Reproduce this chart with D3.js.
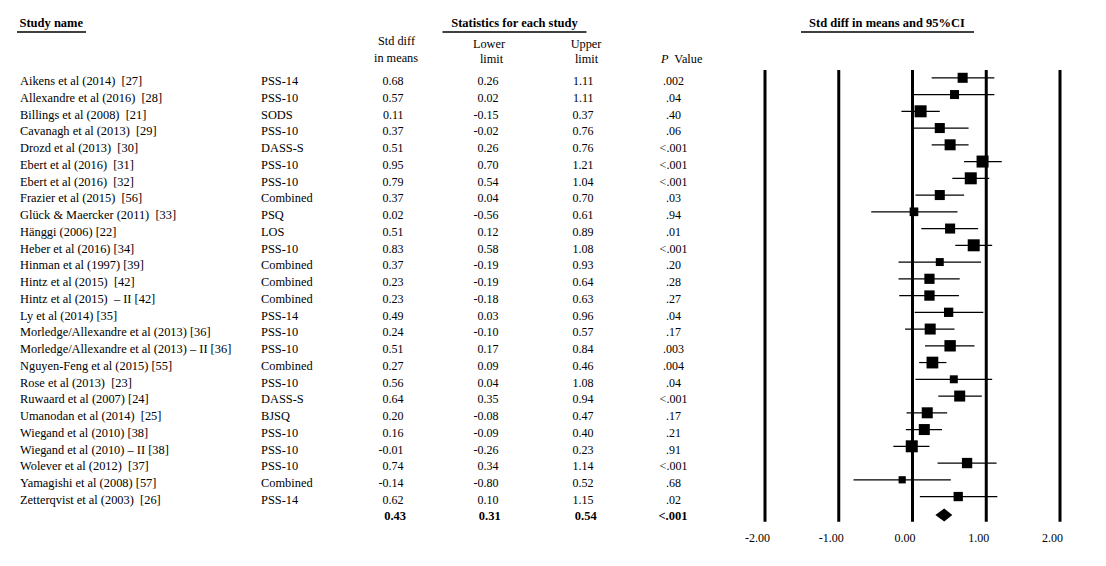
<!DOCTYPE html>
<html>
<head>
<meta charset="utf-8">
<script src="https://cdn.jsdelivr.net/npm/d3@7"></script>
<style>
  html, body { margin: 0; padding: 0; background: #fff; }
  svg { display: block; }
  text { font-family: "Liberation Serif", "Times New Roman", serif; fill: #000; white-space: pre; }
</style>
</head>
<body>
<svg id="chart" width="1106" height="566"></svg>
<script>
// ---------- Data ----------
const studies = [
  "Aikens et al (2014)  [27]",
  "Allexandre et al (2016)  [28]",
  "Billings et al (2008)  [21]",
  "Cavanagh et al (2013)  [29]",
  "Drozd et al (2013)  [30]",
  "Ebert et al (2016)  [31]",
  "Ebert et al (2016)  [32]",
  "Frazier et al (2015)  [56]",
  "Glück & Maercker (2011)  [33]",
  "Hänggi (2006) [22]",
  "Heber et al (2016) [34]",
  "Hinman et al (1997) [39]",
  "Hintz et al (2015)  [42]",
  "Hintz et al (2015)  – II [42]",
  "Ly et al (2014) [35]",
  "Morledge/Allexandre et al (2013) [36]",
  "Morledge/Allexandre et al (2013) – II [36]",
  "Nguyen-Feng et al (2015) [55]",
  "Rose et al (2013)  [23]",
  "Ruwaard et al (2007) [24]",
  "Umanodan et al (2014)  [25]",
  "Wiegand et al (2010) [38]",
  "Wiegand et al (2010) – II [38]",
  "Wolever et al (2012)  [37]",
  "Yamagishi et al (2008) [57]",
  "Zetterqvist et al (2003)  [26]"
];
const measures = ["PSS-14","PSS-10","SODS","PSS-10","DASS-S","PSS-10","PSS-10","Combined","PSQ","LOS",
  "PSS-10","Combined","Combined","Combined","PSS-14","PSS-10","PSS-10","Combined","PSS-10","DASS-S",
  "BJSQ","PSS-10","PSS-10","PSS-10","Combined","PSS-14"];
const smd   = [0.68,0.57,0.11,0.37,0.51,0.95,0.79,0.37,0.02,0.51,0.83,0.37,0.23,0.23,0.49,0.24,0.51,0.27,0.56,0.64,0.20,0.16,-0.01,0.74,-0.14,0.62];
const lower = [0.26,0.02,-0.15,-0.02,0.26,0.70,0.54,0.04,-0.56,0.12,0.58,-0.19,-0.19,-0.18,0.03,-0.10,0.17,0.09,0.04,0.35,-0.08,-0.09,-0.26,0.34,-0.80,0.10];
const upper = [1.11,1.11,0.37,0.76,0.76,1.21,1.04,0.70,0.61,0.89,1.08,0.93,0.64,0.63,0.96,0.57,0.84,0.46,1.08,0.94,0.47,0.40,0.23,1.14,0.52,1.15];
const pvals = [".002",".04",".40",".06","<.001","<.001","<.001",".03",".94",".01","<.001",".20",".28",".27",".04",".17",".003",".004",".04","<.001",".17",".21",".91","<.001",".68",".02"];
// relative weights
const weights = [3.5,2.8,5.0,3.5,4.2,5.0,5.0,3.5,2.6,3.5,5.0,2.2,3.6,3.7,3.0,4.2,4.5,4.8,2.2,4.2,4.2,4.2,5.0,3.7,1.8,3.0];
const summary = {smd: 0.43, lower: 0.31, upper: 0.54, p: "<.001"};
const tickValues = [-2, -1, 0, 1, 2];

// ---------- Layout ----------
const svg = d3.select("#chart");
const rowBase0 = 85.2, rowStep = 16.75;
const x = d3.scaleLinear().domain([-2, 2]).range([765, 1060]);
const size = d3.scaleSqrt().domain([0, d3.max(weights)]).range([0, 12]);
const baseline = i => rowBase0 + i * rowStep;
const fmt = v => v.toFixed(2);

// Headers
function underline(x1, x2, y) {
  svg.append("line").attr("x1", x1).attr("x2", x2).attr("y1", y).attr("y2", y)
    .attr("stroke", "#000").attr("stroke-width", 1.3);
}
svg.append("text").attr("x", 19.5).attr("y", 27).attr("font-size", 12.5).attr("font-weight", "bold").text("Study name");
underline(17, 86, 32);
svg.append("text").attr("x", 514.5).attr("y", 27).attr("text-anchor", "middle").attr("font-size", 12.5).attr("font-weight", "bold").text("Statistics for each study");
underline(442.5, 586.5, 32);
svg.append("text").attr("x", 887).attr("y", 27).attr("text-anchor", "middle").attr("font-size", 12.5).attr("font-weight", "bold").text("Std diff in means and 95%CI");
underline(801, 974, 32);

const sub = [
  {t: "Std diff", x: 396.5, y: 45}, {t: "in means", x: 396, y: 61.5},
  {t: "Lower", x: 489, y: 48}, {t: "limit", x: 491.5, y: 63.3},
  {t: "Upper", x: 586, y: 48}, {t: "limit", x: 586.5, y: 63.3}
];
svg.selectAll("text.sub").data(sub).enter().append("text").attr("class", "sub")
  .attr("x", d => d.x).attr("y", d => d.y).attr("text-anchor", "middle").attr("font-size", 12.3).text(d => d.t);
const pv = svg.append("text").attr("x", 661).attr("y", 63.3).attr("font-size", 12.3);
pv.append("tspan").attr("font-style", "italic").text("P");
pv.append("tspan").attr("dx", 3).text(" Value");

// Table rows
const idx = studies.map((s, i) => i);
const rows = svg.selectAll("g.row").data(idx).enter().append("g").attr("class", "row");
rows.append("text").attr("x", 20).attr("y", i => baseline(i)).attr("font-size", 12.4).text(i => studies[i]);
rows.append("text").attr("x", 261).attr("y", i => baseline(i)).attr("font-size", 12.4).text(i => measures[i]);
rows.append("text").attr("x", 403.5).attr("y", i => baseline(i)).attr("text-anchor", "end").attr("font-size", 12).text(i => fmt(smd[i]));
rows.append("text").attr("x", 498.5).attr("y", i => baseline(i)).attr("text-anchor", "end").attr("font-size", 12).text(i => fmt(lower[i]));
rows.append("text").attr("x", 593.5).attr("y", i => baseline(i)).attr("text-anchor", "end").attr("font-size", 12).text(i => fmt(upper[i]));
rows.append("text").attr("x", 673.5).attr("y", i => baseline(i)).attr("text-anchor", "middle").attr("font-size", 12).text(i => pvals[i]);

// Summary row
const sumY = 520;
[[fmt(summary.smd), 406], [fmt(summary.lower), 500.7], [fmt(summary.upper), 596.7]].forEach(([t, xx]) => {
  svg.append("text").attr("x", xx).attr("y", sumY).attr("text-anchor", "end").attr("font-size", 12.5).attr("font-weight", "bold").text(t);
});
svg.append("text").attr("x", 673).attr("y", sumY).attr("text-anchor", "middle").attr("font-size", 12.5).attr("font-weight", "bold").text(summary.p);

// Plot: vertical reference lines
svg.selectAll("line.vline").data(tickValues).enter().append("line").attr("class", "vline")
  .attr("x1", d => x(d)).attr("x2", d => x(d)).attr("y1", 70).attr("y2", 521.7)
  .attr("stroke", "#000").attr("stroke-width", 3);

// Axis labels
svg.selectAll("text.tick").data(tickValues).enter().append("text").attr("class", "tick")
  .attr("x", d => x(d) - 7.5).attr("y", 541.5).attr("text-anchor", "middle").attr("font-size", 12)
  .text(d => fmt(d));

// CI lines and squares
const cy = i => baseline(i) - 7.4;
svg.selectAll("line.ci").data(idx).enter().append("line").attr("class", "ci")
  .attr("x1", i => x(lower[i])).attr("x2", i => x(upper[i]))
  .attr("y1", i => cy(i)).attr("y2", i => cy(i))
  .attr("stroke", "#000").attr("stroke-width", 1.2);
svg.selectAll("rect.pt").data(idx).enter().append("rect").attr("class", "pt")
  .attr("x", i => x(smd[i]) - size(weights[i]) / 2)
  .attr("y", i => cy(i) - size(weights[i]) / 2)
  .attr("width", i => size(weights[i])).attr("height", i => size(weights[i]))
  .attr("fill", "#000");

// Summary diamond
const dy = 515, dh = 6.5;
svg.append("path")
  .attr("d", `M${x(summary.lower)},${dy} L${x(summary.smd)},${dy - dh} L${x(summary.upper)},${dy} L${x(summary.smd)},${dy + dh} Z`)
  .attr("fill", "#000");
</script>
</body>
</html>
